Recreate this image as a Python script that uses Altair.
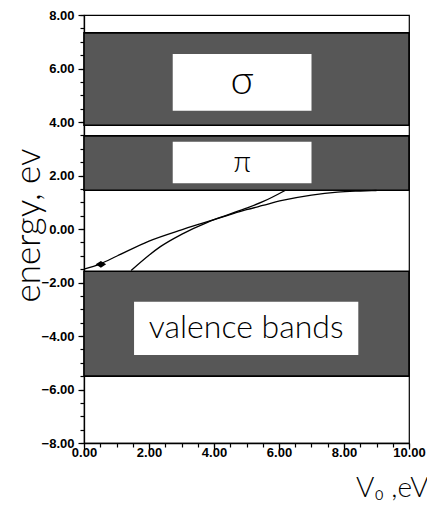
import altair as alt
import pandas as pd

# Energy bands (eV)
band_names = ["σ", "π", "valence bands"]
band_from_v = [0.0, 0.0, 0.0]
band_to_v = [10.0, 10.0, 10.0]
band_lo = [3.88, 1.45, -5.50]
band_hi = [7.33, 3.48, -1.58]
# white label boxes inside the bands
box_x0 = [2.73, 2.73, 1.54]
box_x1 = [7.00, 7.00, 8.44]
box_lo = [4.42, 1.71, -4.71]
box_hi = [6.54, 3.26, -2.72]

# level curves vs V0
curve1_x = [0.0, 0.5, 1.0, 2.0, 3.0, 3.6, 4.4, 5.0, 5.5, 6.1, 7.0, 7.8, 8.5, 9.0]
curve1_y = [-1.50, -1.30, -1.02, -0.45, -0.03, 0.20, 0.50, 0.72, 0.88, 1.07, 1.27, 1.38, 1.42, 1.44]
curve2_x = [1.45, 2.0, 2.35, 3.0, 3.8, 4.4, 5.0, 5.5, 6.2]
curve2_y = [-1.55, -0.98, -0.66, -0.20, 0.25, 0.52, 0.78, 1.02, 1.45]
marker_x = [0.52]
marker_y = [-1.32]

# axis ticks
x_major = [0, 2, 4, 6, 8, 10]
x_minor = [0, 0.5, 1, 1.5, 2, 2.5, 3, 3.5, 4, 4.5, 5, 5.5, 6, 6.5, 7, 7.5, 8, 8.5, 9, 9.5, 10]
y_major = [-8, -6, -4, -2, 0, 2, 4, 6, 8]
y_minor = [-8, -7.5, -7, -6.5, -6, -5.5, -5, -4.5, -4, -3.5, -3, -2.5, -2, -1.5, -1, -0.5,
           0, 0.5, 1, 1.5, 2, 2.5, 3, 3.5, 4, 4.5, 5, 5.5, 6, 6.5, 7, 7.5, 8]

bands = pd.DataFrame({"name": band_names, "x0": band_from_v, "x1": band_to_v,
                      "lo": band_lo, "hi": band_hi})
boxes = pd.DataFrame({"name": band_names, "x0": box_x0, "x1": box_x1,
                      "lo": box_lo, "hi": box_hi})
curves = pd.concat([
    pd.DataFrame({"c": "1", "v": curve1_x, "e": curve1_y, "o": range(len(curve1_x))}),
    pd.DataFrame({"c": "2", "v": curve2_x, "e": curve2_y, "o": range(len(curve2_x))}),
])
marker = pd.DataFrame({"v": marker_x, "e": marker_y})

xs = alt.Scale(domain=[0, 10], nice=False, zero=False)
ys = alt.Scale(domain=[-8, 8], nice=False, zero=False)

LABEL_FONT = "Liberation Sans"
TITLE_FONT = "Lato"

x_axis_major = alt.Axis(values=x_major, format=".2f", orient="bottom", grid=False,
                        tickSize=6, tickColor="black", tickWidth=1.2,
                        domainColor="black", domainWidth=1.3,
                        labelFont=LABEL_FONT, labelFontSize=13, labelFontWeight="bold",
                        labelColor="black", labelPadding=-3, labelFlush=False,
                        labelOverlap=False,
                        title="V₀ ,eV", titleFont=TITLE_FONT, titleFontWeight=300,
                        titleFontSize=28, titleColor="black", titleX=344, titleY=53,
                        titleAlign="right", titleAnchor="end", titleBaseline="alphabetic")
y_axis_major = alt.Axis(values=y_major, format=".2f", orient="left", grid=False,
                        tickSize=6, tickColor="black", tickWidth=1.2,
                        domainColor="black", domainWidth=1.3,
                        labelFont=LABEL_FONT, labelFontSize=13, labelFontWeight="bold",
                        labelColor="black", labelPadding=4, labelOverlap=False,
                        title="energy, ev", titleFont=TITLE_FONT, titleFontWeight=300,
                        titleFontSize=35, titleColor="black", titleX=-45, titleY=210,
                        titleAngle=270, titleAlign="center", titleBaseline="alphabetic")
x_axis_minor = alt.Axis(values=x_minor, orient="bottom", grid=False, labels=False,
                        domain=False, tickSize=4, tickColor="black", tickWidth=1.2,
                        title="")
y_axis_minor = alt.Axis(values=y_minor, orient="left", grid=False, labels=False,
                        domain=False, tickSize=4, tickColor="black", tickWidth=1.2,
                        title="")

band_layer = alt.Chart(bands).mark_rect(fill="#575757", stroke="black", strokeWidth=1.6).encode(
    x=alt.X("x0:Q", scale=xs, axis=x_axis_major),
    x2="x1:Q",
    y=alt.Y("lo:Q", scale=ys, axis=y_axis_major),
    y2="hi:Q",
)

box_layer = alt.Chart(boxes).mark_rect(fill="white", strokeWidth=0).encode(
    x=alt.X("x0:Q", scale=xs, axis=None),
    x2="x1:Q",
    y=alt.Y("lo:Q", scale=ys, axis=None),
    y2="hi:Q",
)

curve_layer = alt.Chart(curves).mark_line(color="black", strokeWidth=1.3, interpolate="monotone").encode(
    x=alt.X("v:Q", scale=xs, axis=x_axis_minor),
    y=alt.Y("e:Q", scale=ys, axis=y_axis_minor),
    detail="c:N",
    order="o:Q",
)

marker_layer = alt.Chart(marker).mark_point(
    shape="M-1,0L0,-0.65L1,0L0,0.65Z", filled=True, fill="black", opacity=1, size=110
).encode(
    x=alt.X("v:Q", scale=xs, axis=None),
    y=alt.Y("e:Q", scale=ys, axis=None),
)


def label_layer(idx, size):
    return alt.Chart(boxes.iloc[[idx]]).transform_calculate(
        cx="(datum.x0 + datum.x1) / 2", cy="(datum.lo + datum.hi) / 2"
    ).mark_text(font=TITLE_FONT, fontWeight=300, fontSize=size, color="black",
                align="center", baseline="middle").encode(
        x=alt.X("cx:Q", scale=xs, axis=None),
        y=alt.Y("cy:Q", scale=ys, axis=None),
        text="name:N",
    )


chart = alt.layer(
    band_layer, box_layer, curve_layer, marker_layer,
    label_layer(0, 40), label_layer(1, 30), label_layer(2, 32),
).resolve_axis(x="independent", y="independent").properties(
    width=325, height=428,
    autosize=alt.AutoSizeParams(type="none"),
    padding={"left": 76, "top": 7, "right": 18, "bottom": 60},
).configure_view(stroke="black", strokeWidth=1.2)

chart.save("out.html", embed_options={"renderer": "svg", "actions": False})
